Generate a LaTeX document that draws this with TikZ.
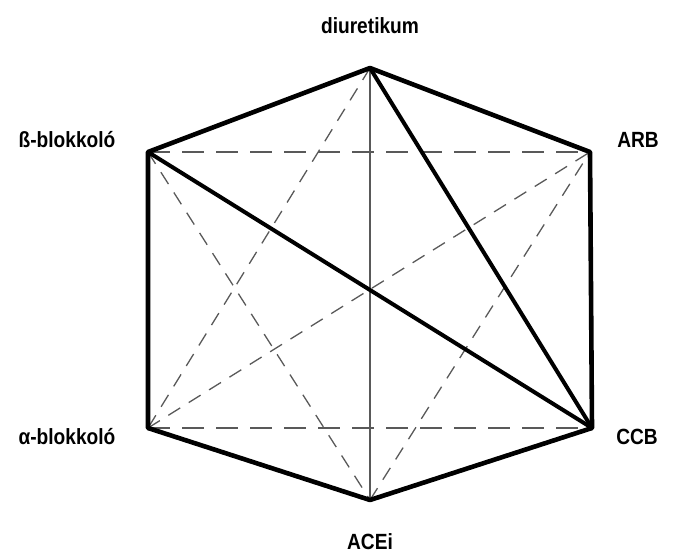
\documentclass[tikz,border=0pt]{standalone}
\usepackage{fontspec}
\setmainfont{Liberation Sans}
\usepackage{tikz}
\tikzset{>=latex}
\tikzset{
  lbl/.style={font=\bfseries\fontsize{22}{24}\selectfont\addfontfeature{FakeStretch=0.87}},
  rim/.style={line width=4.6pt,line join=round,black},
  strong/.style={line width=4pt,black},
  weak/.style={line width=1.3pt,gray!70!black},
  longdash/.style={weak,dash pattern=on 22pt off 12pt},
  shortdash/.style={weak,dash pattern=on 14pt off 10pt}
}

\begin{document}
\begin{tikzpicture}[x=1pt,y=-1pt]
        \useasboundingbox (0,0) rectangle (676,557);
        \coordinate (diu) at (370,68);
        \coordinate (arb) at (590,152);
        \coordinate (ccb) at (592,428);
        \coordinate (ace) at (370,500);
        \coordinate (alf) at (148,428);
        \coordinate (bet) at (148,152);
        \node[lbl] (ldiu) at (370,26) {diuretikum};
        \node[lbl] (larb) at (638,140) {ARB};
        \node[lbl] (lccb) at (637,437) {CCB};
        \node[lbl] (lace) at (370,542) {ACEi};
        \node[lbl] (lalf) at (67,437) {α-blokkoló};
        \node[lbl] (lbet) at (67,140) {ß-blokkoló};
        \draw[longdash] (bet)--(arb);
        \draw[longdash] (alf)--(ccb);
        \draw[shortdash] (diu)--(alf);
        \draw[shortdash] (bet)--(ace);
        \draw[shortdash] (alf)--(arb);
        \draw[shortdash] (ace)--(arb);
        \draw[weak] (diu)--(ace);
        \draw[strong] (diu)--(ccb);
        \draw[strong] (bet)--(ccb);
        \draw[rim] (diu)--(arb)--(ccb)--(ace)--(alf)--(bet)--cycle;
\end{tikzpicture}
\end{document}
